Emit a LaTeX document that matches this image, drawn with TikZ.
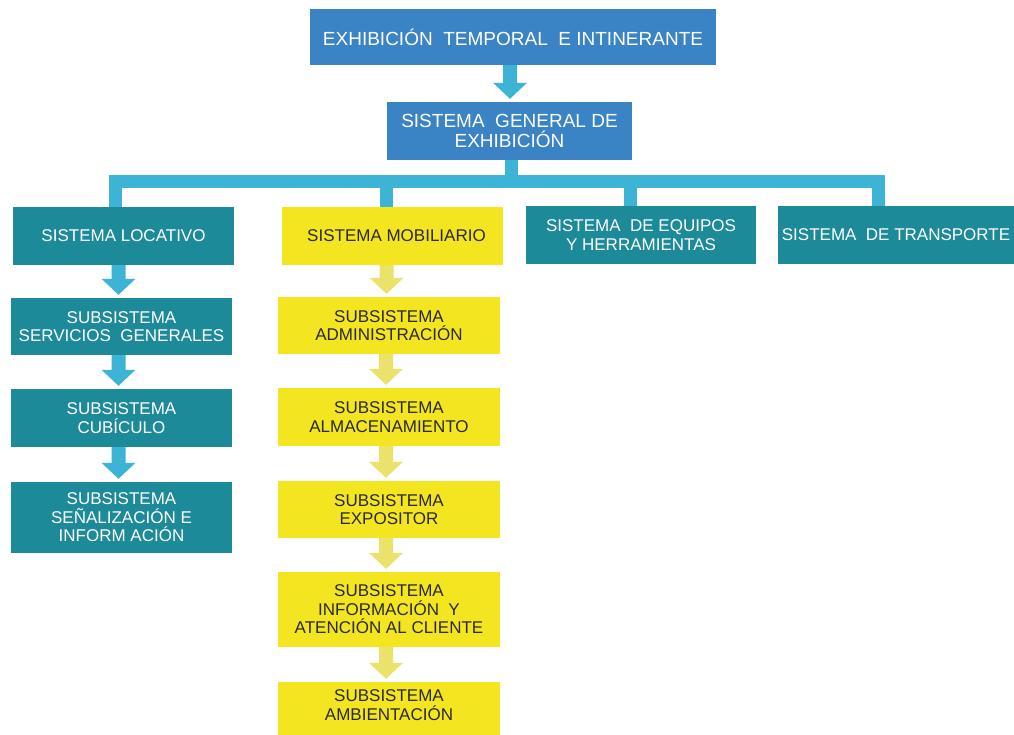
\documentclass[tikz,border=0pt]{standalone}
\usepackage{fontspec}
\setmainfont{Liberation Sans}
\usetikzlibrary{calc}
\definecolor{cblue}{HTML}{3A83C4}
\definecolor{cteal}{HTML}{1D8A99}
\definecolor{ccyan}{HTML}{3DB3D6}
\definecolor{cyellow}{HTML}{F3E520}
\definecolor{cyarrow}{HTML}{EAE26A}
\definecolor{ctext}{HTML}{2A2A2A}
\newcommand\blockarr[4]{%
  \fill[#4] ($(#1.south)+(#3-7,0)$) -- ($(#1.south)+(#3+7,0)$)
    -- ($(#1.south |- #2.north)+(#3+7,-19)$) -- ($(#1.south |- #2.north)+(#3+17,-19)$)
    -- ($(#1.south |- #2.north)+(#3,-3)$)
    -- ($(#1.south |- #2.north)+(#3-17,-19)$) -- ($(#1.south |- #2.north)+(#3-7,-19)$) -- cycle;}
\begin{document}
\begin{tikzpicture}[x=1pt,y=-1pt,
  box/.style={rectangle, inner sep=0pt, align=center},
  bbox/.style={box, fill=cblue, text=white, font=\fontsize{19}{20.5}\selectfont},
  tbox/.style={box, fill=cteal, text=white, font=\fontsize{17}{18.5}\selectfont},
  ybox/.style={box, fill=cyellow, text=ctext, font=\fontsize{17}{18.5}\selectfont},
  conn/.style={draw=ccyan, line width=13pt, line join=miter}]
\useasboundingbox (0,0) rectangle (1014,735);
\clip (0,0) rectangle (1014,735);
\fill[white] (0,0) rectangle (1014,735);

\node[bbox, minimum width=406pt, minimum height=56pt] (top) at (513,37) {EXHIBICIÓN\ \ TEMPORAL\ \ E INTINERANTE};
\node[bbox, minimum width=245pt, minimum height=58pt] (gen) at (509.5,131) {SISTEMA\ \ GENERAL DE\\EXHIBICIÓN};

\node[tbox, minimum width=221pt, minimum height=58pt] (loc) at (123.5,236) {SISTEMA LOCATIVO};
\node[ybox, minimum width=221pt, minimum height=58pt] (mob) at (392.5,236) {\hspace*{8pt}SISTEMA MOBILIARIO};
\node[tbox, minimum width=230pt, minimum height=58pt] (equ) at (641,235) {SISTEMA\ \ DE EQUIPOS\\Y HERRAMIENTAS};
\node[tbox, minimum width=236pt, minimum height=58pt] (tra) at (896,235) {SISTEMA\ \ DE TRANSPORTE};

\node[tbox, minimum width=221pt, minimum height=57pt] (ser) at (121.5,326.5) {SUBSISTEMA\\SERVICIOS\ \ GENERALES};
\node[tbox, minimum width=221pt, minimum height=58pt] (cub) at (121.5,418) {SUBSISTEMA\\CUBÍCULO};
\node[tbox, minimum width=221pt, minimum height=71pt] (sen) at (121.5,517.5) {SUBSISTEMA\\SEÑALIZACIÓN E\\INFORM ACIÓN};

\node[ybox, minimum width=222pt, minimum height=57pt] (adm) at (389,325.5) {SUBSISTEMA\\ADMINISTRACIÓN};
\node[ybox, minimum width=222pt, minimum height=58pt] (alm) at (389,417) {SUBSISTEMA\\ALMACENAMIENTO};
\node[ybox, minimum width=222pt, minimum height=57pt] (exp) at (389,509.5) {SUBSISTEMA\\EXPOSITOR};
\node[ybox, minimum width=222pt, minimum height=75pt] (inf) at (389,609.5) {SUBSISTEMA\\INFORMACIÓN\ \ Y\\ATENCIÓN AL CLIENTE};
\node[ybox, minimum width=222pt, minimum height=46pt] (amb) at (389,705) {SUBSISTEMA\\AMBIENTACIÓN};
\fill[cyellow] (amb.south west) rectangle ($(amb.south east)+(0,12)$);

% tree connectors
\coordinate (j0) at (511.5,182);
\coordinate (j1) at (115,182);
\coordinate (j2) at (386,182);
\coordinate (j3) at (630,182);
\coordinate (j4) at (878,182);
\draw[conn] (j1 |- loc.north) -- (j1) -- (j4) -- (j4 |- tra.north);
\draw[conn] (gen.south -| j0) -- (j0);
\draw[conn] (j2) -- (j2 |- mob.north);
\draw[conn] (j3) -- (j3 |- equ.north);

% block arrows
\blockarr{top}{gen}{-3}{ccyan}
\blockarr{loc}{ser}{-5}{ccyan}
\blockarr{ser}{cub}{-3}{ccyan}
\blockarr{cub}{sen}{-3}{ccyan}
\blockarr{mob}{adm}{-6}{cyarrow}
\blockarr{adm}{alm}{-3}{cyarrow}
\blockarr{alm}{exp}{-3}{cyarrow}
\blockarr{exp}{inf}{-3}{cyarrow}
\blockarr{inf}{amb}{-3}{cyarrow}
\end{tikzpicture}
\end{document}
